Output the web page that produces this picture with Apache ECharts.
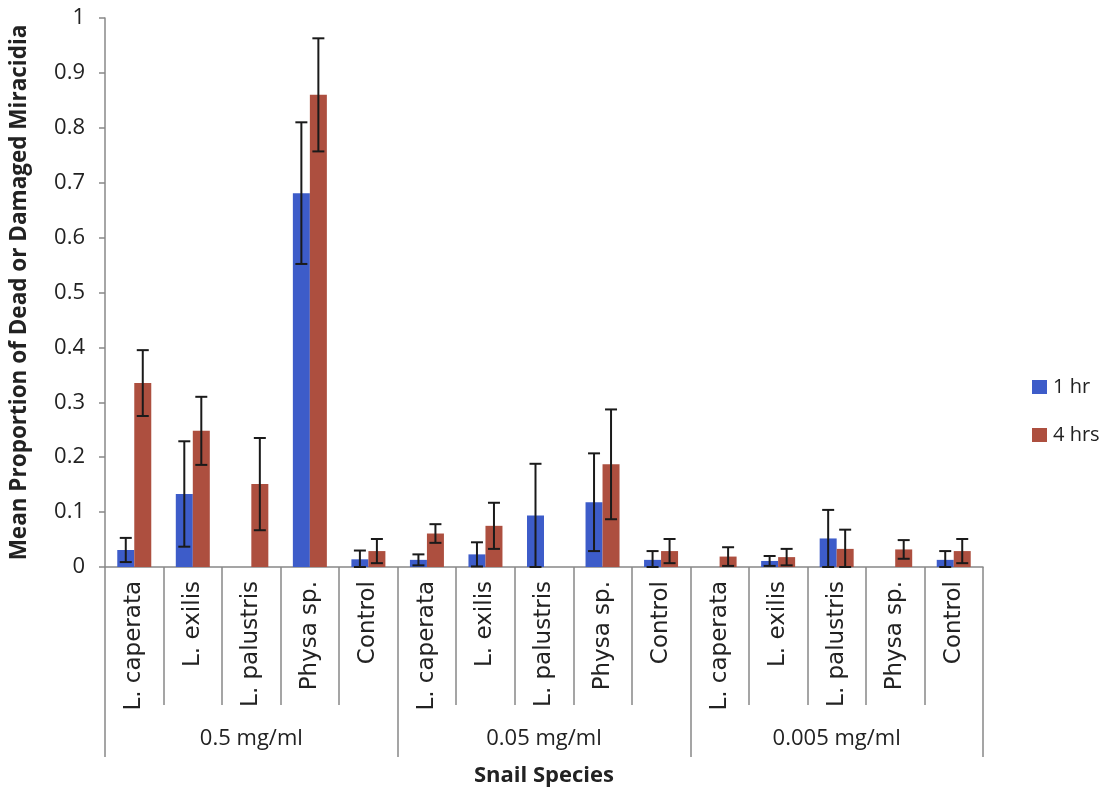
<!DOCTYPE html>
<html>
<head>
<meta charset="utf-8">
<script src="https://cdn.jsdelivr.net/npm/echarts@6/dist/echarts.min.js"></script>
<style>html,body{margin:0;padding:0;background:#fff;}#c{width:1110px;height:792px;}</style>
</head>
<body>
<div id="c"></div>
<script>
const categories = ['L. caperata','L. exilis','L. palustris','Physa sp.','Control',
                    'L. caperata','L. exilis','L. palustris','Physa sp.','Control',
                    'L. caperata','L. exilis','L. palustris','Physa sp.','Control'];
const groups = ['0.5 mg/ml','0.05 mg/ml','0.005 mg/ml'];
const seriesNames = ['1 hr','4 hrs'];
const hr1Mean = [0.031,0.133,0,0.681,0.014, 0.013,0.023,0.094,0.118,0.013, 0,0.011,0.052,0,0.013];
const hr1Err  = [0.022,0.096,null,0.129,0.016, 0.010,0.022,0.094,0.089,0.016, null,0.009,0.052,null,0.016];
const hr4Mean = [0.335,0.248,0.151,0.860,0.029, 0.061,0.075,0,0.187,0.029, 0.019,0.018,0.033,0.032,0.029];
const hr4Err  = [0.060,0.062,0.084,0.103,0.022, 0.017,0.042,null,0.100,0.022, 0.017,0.015,0.035,0.017,0.022];
const yTicks = [0,0.1,0.2,0.3,0.4,0.5,0.6,0.7,0.8,0.9,1];

const BAR_W = 17;
function errData(means, errs){
  return means.map((m,i)=> errs[i]==null ? [i,null,null] : [i, Math.max(0,m-errs[i]), m+errs[i]]);
}
function errSeries(means, errs, side){
  return {
    type:'custom', xAxisIndex:0, yAxisIndex:0, z:10, silent:true,
    data: errData(means, errs),
    encode:{x:0,y:[1,2]},
    renderItem: function(params, api){
      if (api.value(1)==null || isNaN(api.value(1))) return;
      const i = api.value(0);
      const lo = api.coord([i, api.value(1)]);
      const hi = api.coord([i, api.value(2)]);
      const x = lo[0] + side*BAR_W/2;
      const cap = 6;
      const st = {stroke:'#1a1a1a', lineWidth:2};
      return {type:'group', children:[
        {type:'line', shape:{x1:x,y1:lo[1],x2:x,y2:hi[1]}, style:st},
        {type:'line', shape:{x1:x-cap,y1:hi[1],x2:x+cap,y2:hi[1]}, style:st},
        {type:'line', shape:{x1:x-cap,y1:lo[1],x2:x+cap,y2:lo[1]}, style:st}
      ]};
    }
  };
}

const chart = echarts.init(document.getElementById('c'), null, {renderer:'canvas'});
chart.setOption({
  backgroundColor:'#ffffff',
  animation:false,
  grid:{left:105, right:127, top:18, bottom:225, containLabel:false},
  legend:{
    orient:'vertical', left:1027, top:372, itemWidth:15, itemHeight:14, itemGap:28,
    icon:'rect',
    data:seriesNames,
    textStyle:{fontFamily:'Open Sans', fontSize:20, color:'#222', padding:[0,0,0,1]}
  },
  xAxis:[
    {
      type:'category', data:categories, position:'bottom',
      axisLine:{show:true, lineStyle:{color:'#888', width:1.5}},
      axisTick:{show:true, interval:0, length:138, lineStyle:{color:'#888', width:1.5}},
      axisLabel:{interval:0, rotate:90, margin:14, fontFamily:'DejaVu Sans', fontSize:23, color:'#222'}
    },
    {
      type:'category', data:groups, position:'bottom',
      axisLine:{show:false},
      axisTick:{show:true, interval:0, length:190, lineStyle:{color:'#888', width:1.5}},
      axisLabel:{interval:0, margin:161, fontFamily:'Open Sans', fontSize:22, color:'#222'},
      name:'Snail Species', nameLocation:'middle', nameGap:198,
      nameTextStyle:{fontFamily:'Open Sans', fontWeight:'bold', fontSize:22, color:'#222'}
    }
  ],
  yAxis:{
    type:'value', min:0, max:1, interval:0.1,
    axisLine:{show:true, lineStyle:{color:'#888', width:1.5}},
    axisTick:{show:true, inside:false, length:6, lineStyle:{color:'#888', width:1.5}},
    splitLine:{show:false},
    axisLabel:{margin:20, fontFamily:'Open Sans', fontSize:22, color:'#222',
      formatter:function(v){ return String(Math.round(v*10)/10); }},
    name:'Mean Proportion of Dead or Damaged Miracidia', nameLocation:'middle', nameGap:74,
    nameTextStyle:{fontFamily:'Open Sans', fontWeight:'bold', fontSize:22.5, color:'#222'}
  },
  series:[
    {name:seriesNames[0], type:'bar', data:hr1Mean, barWidth:BAR_W, barGap:'0%', itemStyle:{color:'#3D5CC9'}},
    {name:seriesNames[1], type:'bar', data:hr4Mean, barWidth:BAR_W, barGap:'0%', itemStyle:{color:'#AD4F3F'}},
    errSeries(hr1Mean, hr1Err, -1),
    errSeries(hr4Mean, hr4Err, 1)
  ]
});
</script>
</body>
</html>
